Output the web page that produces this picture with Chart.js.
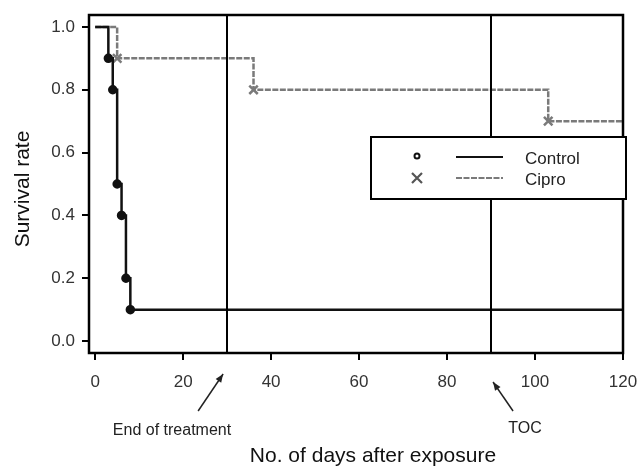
<!DOCTYPE html>
<html>
<head>
<meta charset="utf-8">
<script src="https://cdn.jsdelivr.net/npm/chart.js@4"></script>
<style>
  html, body { margin: 0; padding: 0; background: #fff; }
  #wrap { width: 642px; height: 468px; }
</style>
</head>
<body>
<div id="wrap"><canvas id="km-chart" width="642" height="468"></canvas></div>
<script>
// survival data (day, survival rate)
const controlDays = [0, 3, 4, 5, 6, 7, 8, 120];
const controlRate = [1.0, 0.9, 0.8, 0.5, 0.4, 0.2, 0.1, 0.1];
const ciproDays = [0, 5, 36, 103, 120];
const ciproRate = [1.0, 0.9, 0.8, 0.7, 0.7];

const xTicks = [0, 20, 40, 60, 80, 100, 120];
const yTicks = [0.0, 0.2, 0.4, 0.6, 0.8, 1.0];
const eventDays = [30, 90];           // end of treatment, TOC
const eventLabels = ["End of treatment", "TOC"];
const xTitle = "No. of days after exposure";
const yTitle = "Survival rate";

const FONT = "Liberation Sans, Arial, sans-serif";
const CHART = document.getElementById("km-chart");

function toPoints(xs, ys) {
  return xs.map((x, i) => ({ x: x, y: ys[i] }));
}
// markers only where the curve drops
function dropRadius(ys, r) {
  return ys.map((y, i) => (i > 0 && y < ys[i - 1]) ? r : 0);
}

function drawArrow(ctx, x1, y1, x2, y2) {
  ctx.strokeStyle = "#222";
  ctx.fillStyle = "#222";
  ctx.beginPath();
  ctx.moveTo(x1, y1);
  ctx.lineTo(x2, y2);
  ctx.stroke();
  const ang = Math.atan2(y2 - y1, x2 - x1);
  const L = 9, W = 0.38;
  ctx.beginPath();
  ctx.moveTo(x2, y2);
  ctx.lineTo(x2 - L * Math.cos(ang - W), y2 - L * Math.sin(ang - W));
  ctx.lineTo(x2 - L * Math.cos(ang + W), y2 - L * Math.sin(ang + W));
  ctx.closePath();
  ctx.fill();
}

const framePlugin = {
  id: "frame",
  afterDatasetsDraw(chart) {
    const { ctx, chartArea: a, scales: { x } } = chart;
    ctx.save();
    ctx.strokeStyle = "#000";
    ctx.lineWidth = 2;
    // event lines
    eventDays.forEach(d => {
      const px = Math.round(x.getPixelForValue(d));
      ctx.beginPath();
      ctx.moveTo(px, a.top);
      ctx.lineTo(px, a.bottom);
      ctx.stroke();
    });
    ctx.lineWidth = 2.5;
    ctx.strokeRect(a.left, a.top, a.right - a.left, a.bottom - a.top);

    // axis titles
    ctx.fillStyle = "#111";
    ctx.textBaseline = "middle";
    ctx.textAlign = "center";
    ctx.font = "21px " + FONT;
    ctx.fillText(xTitle, 373, 456);
    ctx.save();
    ctx.translate(23, 189);
    ctx.rotate(-Math.PI / 2);
    ctx.fillText(yTitle, 0, 0);
    ctx.restore();

    // annotations under the axis
    ctx.fillStyle = "#222";
    ctx.font = "16px " + FONT;
    ctx.lineWidth = 1.5;
    const p30 = x.getPixelForValue(eventDays[0]);
    const p90 = x.getPixelForValue(eventDays[1]);
    drawArrow(ctx, p30 - 29, 411, p30 - 4, 374);
    ctx.fillText(eventLabels[0], 172, 431);
    drawArrow(ctx, p90 + 22, 411, p90 + 2, 382);
    ctx.fillText(eventLabels[1], 525, 429);

    // legend box
    const bx = 371, by = 137, bw = 255, bh = 62;
    ctx.fillStyle = "#fff";
    ctx.fillRect(bx, by, bw, bh);
    ctx.lineWidth = 2;
    ctx.strokeStyle = "#000";
    ctx.strokeRect(bx, by, bw, bh);
    const ds = chart.data.datasets;
    const rows = [157, 178];
    ds.forEach((d, i) => {
      const y = rows[i];
      if (i === 0) {
        ctx.strokeStyle = "#111";
        ctx.lineWidth = 2;
        ctx.beginPath();
        ctx.arc(417, y - 1, 2.5, 0, Math.PI * 2);
        ctx.stroke();
      } else {
        ctx.lineWidth = 2.2;
        ctx.strokeStyle = "#555";
        ctx.beginPath();
        ctx.moveTo(412, y - 5); ctx.lineTo(422, y + 5);
        ctx.moveTo(422, y - 5); ctx.lineTo(412, y + 5);
        ctx.stroke();
      }
      ctx.strokeStyle = d.borderColor;
      ctx.lineWidth = 2;
      ctx.setLineDash(d.borderDash || []);
      ctx.beginPath();
      ctx.moveTo(456, y);
      ctx.lineTo(503, y);
      ctx.stroke();
      ctx.setLineDash([]);
      ctx.fillStyle = "#222";
      ctx.textAlign = "left";
      ctx.font = "17px " + FONT;
      ctx.fillText(d.label, 525, y + 2);
    });
    ctx.restore();
  }
};

let chartKM = new Chart(CHART, {
  type: "line",
  data: {
    datasets: [
      {
        label: "Control",
        data: toPoints(controlDays, controlRate),
        borderColor: "#111",
        backgroundColor: "#111",
        borderWidth: 2.5,
        stepped: "before",
        pointRadius: dropRadius(controlRate, 3.5),
        pointStyle: "circle",
        order: 1
      },
      {
        label: "Cipro",
        data: toPoints(ciproDays, ciproRate),
        borderColor: "#7a7a7a",
        backgroundColor: "#7a7a7a",
        borderWidth: 2.5,
        borderDash: [6, 1.5],
        stepped: "before",
        pointRadius: dropRadius(ciproRate, 6),
        pointStyle: "crossRot",
        pointBorderWidth: 2.5,
        order: 2
      }
    ]
  },
  options: {
    responsive: false,
    animation: false,
    layout: { padding: { top: 15, right: 19, left: 0, bottom: 0 } },
    plugins: {
      legend: { display: false },
      tooltip: { enabled: false }
    },
    scales: {
      x: {
        type: "linear",
        min: -1.4,
        max: 120,
        afterBuildTicks: s => { s.ticks = xTicks.map(v => ({ value: v })); },
        afterFit: s => { s.height = 115; s.paddingLeft = 0; s.paddingRight = 0; },
        grid: { drawOnChartArea: false, drawTicks: true, tickLength: 7, tickColor: "#000", lineWidth: 2 },
        border: { display: false },
        ticks: { color: "#333", font: { family: FONT, size: 17 }, padding: 12, maxRotation: 0 }
      },
      y: {
        type: "linear",
        min: -0.038,
        max: 1.038,
        afterBuildTicks: s => { s.ticks = yTicks.map(v => ({ value: v })); },
        afterFit: s => { s.width = 89; s.paddingTop = 0; s.paddingBottom = 0; },
        grid: { drawOnChartArea: false, drawTicks: true, tickLength: 7, tickColor: "#000", lineWidth: 2 },
        border: { display: false },
        ticks: {
          color: "#333",
          font: { family: FONT, size: 17 },
          padding: 7,
          callback: v => v.toFixed(1)
        }
      }
    }
  },
  plugins: [framePlugin]
});
</script>
</body>
</html>
